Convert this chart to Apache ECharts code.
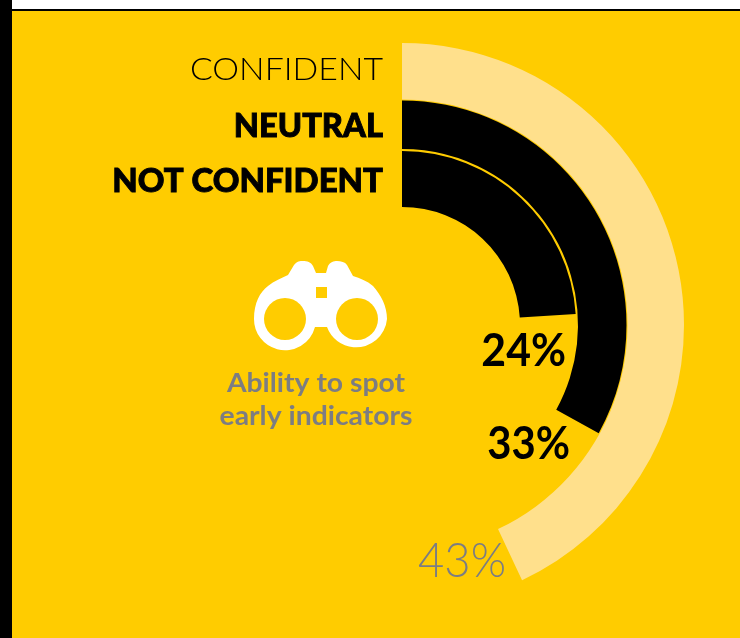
<!DOCTYPE html>
<html>
<head>
<meta charset="utf-8">
<style>html,body{margin:0;padding:0;background:#fff}#chart{width:740px;height:638px}</style>
<script src="https://cdn.jsdelivr.net/npm/echarts@6/dist/echarts.min.js"></script>
</head>
<body>
<div id="chart"></div>
<script>
// Survey answers, in percent, outermost ring first
const categories = ['CONFIDENT', 'NEUTRAL', 'NOT CONFIDENT'];
const shares = [43, 33, 24];
const captionLines = ['Ability to spot', 'early indicators'];

const YELLOW = '#FFCC00';
const PALE = '#FFE08C';
const GREY = '#7C7D82';
const FONT = 'Lato, sans-serif';

const ringColors = [PALE, '#000000', '#000000'];
const ringRadii = [[225.5, 282], [176, 224.5], [118, 174]];

// Binoculars outline, registered as a graphic shape
echarts.graphic.registerShape('binoculars', echarts.graphic.extendPath(
  'M254 319 C254 303 260 292 268 286 C274 281 282 278 288 275 L294 265 C297 261 300 261 303 261 C307 261 311 262 313 266 L316 273 L326 273 L328 266 C330 262 334 261 337 261 C341 261 345 262 347 265 L353 276 C360 278 367 281 373 286 C381 295 387 306 387 319 A31 31 0 0 1 327 327 L315 327 A31 31 0 0 1 254 319 Z',
  {}
));

// One pie per ring: the answer's share, then an invisible remainder
const series = shares.map((v, i) => ({
  type: 'pie',
  silent: true,
  center: [402, 325],
  radius: ringRadii[i],
  startAngle: 90,
  clockwise: true,
  label: { show: false },
  labelLine: { show: false },
  emphasis: { disabled: true },
  data: [
    { value: v, name: categories[i], itemStyle: { color: ringColors[i] } },
    { value: 100 - v, name: 'rest', itemStyle: { color: 'transparent' } }
  ]
}));

// Text placed by its baseline; size is the font size in pixels, stroke thickens heavy type
function text(str, x, baseline, weight, size, fill, align, scaleX, stroke) {
  return {
    type: 'text', x, y: baseline - size * 0.82, scaleX: scaleX, silent: true,
    style: {
      text: str, font: weight + ' ' + size + 'px ' + FONT, fill, align,
      stroke: stroke ? fill : 'transparent', lineWidth: stroke || 0
    }
  };
}

const legendStyles = [
  { weight: 300, y: 80, sx: 1.057, stroke: 0 },
  { weight: 900, y: 137, sx: 1.02, stroke: 0.9 },
  { weight: 900, y: 192, sx: 1.03, stroke: 0.9 }
];
const shareStyles = [
  { weight: 300, size: 48, x: 506, y: 577, fill: GREY, sx: 0.945 },
  { weight: 700, size: 46, x: 570, y: 459, fill: '#000', sx: 0.91 },
  { weight: 700, size: 46, x: 566, y: 366, fill: '#000', sx: 0.93 }
];

const graphics = [
  // Page frame: white strip with a rule on top, black bar on the left
  { type: 'rect', shape: { x: 0, y: 0, width: 740, height: 9 }, style: { fill: '#fff' } },
  { type: 'rect', shape: { x: 0, y: 9, width: 740, height: 2 }, style: { fill: '#000' } },
  { type: 'rect', shape: { x: 0, y: 0, width: 12, height: 638 }, style: { fill: '#000' } },

  { type: 'binoculars', silent: true, style: { fill: '#fff' } },
  { type: 'circle', silent: true, shape: { cx: 285, cy: 319, r: 21 }, style: { fill: YELLOW } },
  { type: 'circle', silent: true, shape: { cx: 357, cy: 319, r: 21 }, style: { fill: YELLOW } },
  { type: 'rect', silent: true, shape: { x: 316, y: 287, width: 11, height: 11 }, style: { fill: YELLOW } },

  text(captionLines[0], 316, 392, 700, 26, GREY, 'center', 1.09),
  text(captionLines[1], 316, 425, 700, 26, GREY, 'center', 1.09)
];

categories.forEach((c, i) => {
  const s = legendStyles[i];
  graphics.push(text(c, 383, s.y, s.weight, 32, '#000', 'right', s.sx, s.stroke));
});
shares.forEach((v, i) => {
  const s = shareStyles[i];
  graphics.push(text(v + '%', s.x, s.y, s.weight, s.size, s.fill, 'right', s.sx));
});

const chart = echarts.init(document.getElementById('chart'), null, { renderer: 'canvas' });
chart.setOption({
  animation: false,
  backgroundColor: YELLOW,
  series,
  graphic: { elements: graphics }
});
</script>
</body>
</html>
